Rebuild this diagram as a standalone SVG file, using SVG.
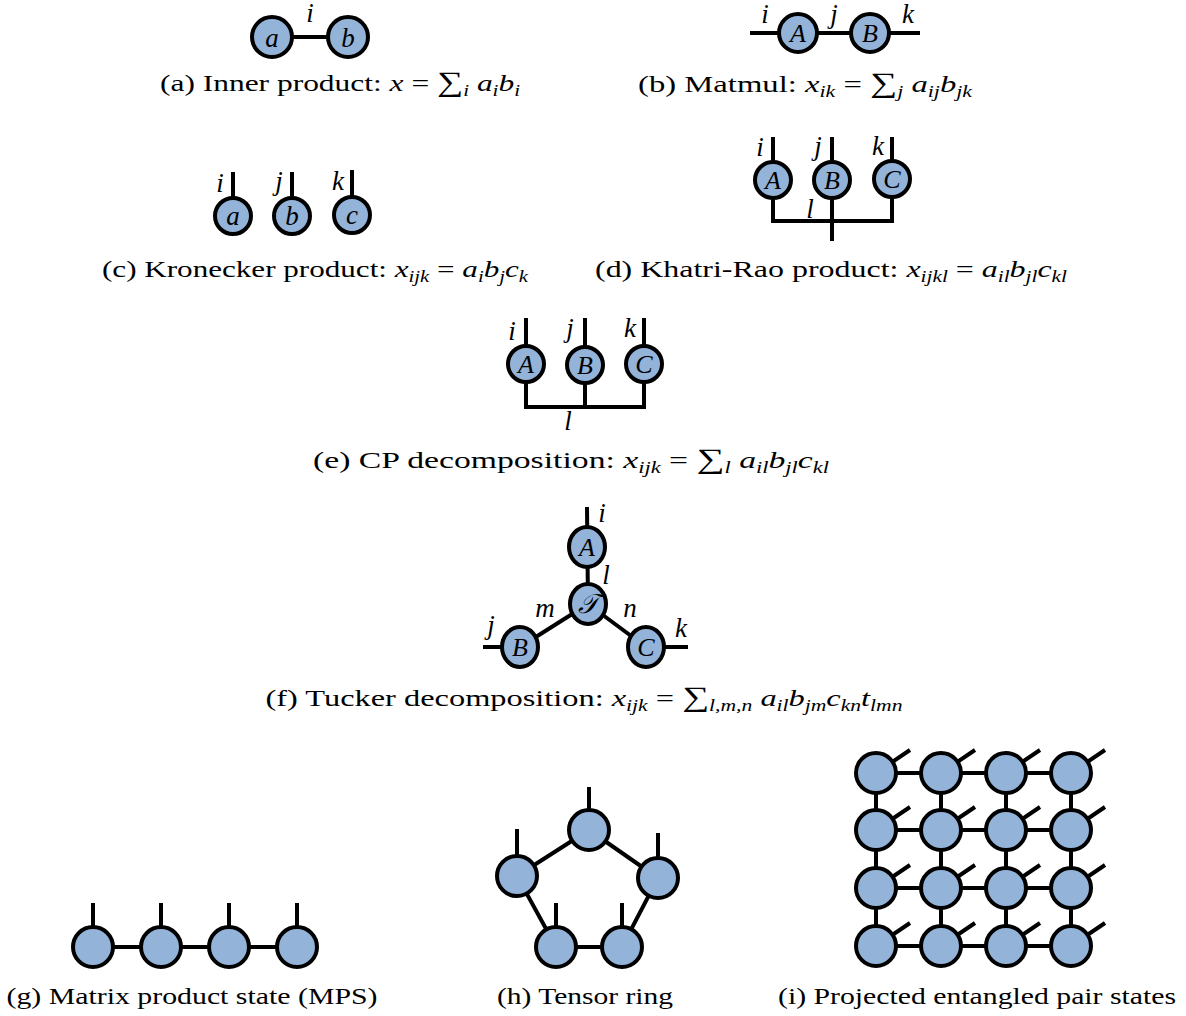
<svg xmlns="http://www.w3.org/2000/svg" width="1186" height="1016" viewBox="0 0 1186 1016">
<style>
.n{fill:#93b3d9;stroke:#000;stroke-width:4}
.e{stroke:#000;stroke-width:4;fill:none}
.cap{font-family:"Liberation Serif","DejaVu Serif",serif;font-size:24px;fill:#000;text-anchor:middle}
.it{font-style:italic}
.lb{font-family:"Liberation Serif","DejaVu Serif",serif;font-style:italic;font-size:27px;fill:#000;text-anchor:middle}
.nl{font-size:26px}
.sm{font-size:16px}
.sg{font-size:28px}
</style>
<rect width="1186" height="1016" fill="#fff"/>
<g id="connectors">
<line class="e" x1="272" y1="37" x2="348" y2="37"/>
<line class="e" x1="750" y1="33" x2="920" y2="33"/>
<line class="e" x1="233" y1="172" x2="233" y2="216"/>
<line class="e" x1="292" y1="172" x2="292" y2="216"/>
<line class="e" x1="352" y1="170" x2="352" y2="215"/>
<line class="e" x1="773" y1="137" x2="773" y2="180"/>
<line class="e" x1="832" y1="137" x2="832" y2="241"/>
<line class="e" x1="892" y1="137" x2="892" y2="179"/>
<polyline class="e" points="773,180 773,221 892,221 892,179"/>
<line class="e" x1="526" y1="318" x2="526" y2="364"/>
<line class="e" x1="585" y1="318" x2="585" y2="407"/>
<line class="e" x1="644" y1="318" x2="644" y2="364"/>
<polyline class="e" points="526,364 526,407 644,407 644,364"/>
<line class="e" x1="587" y1="507" x2="588" y2="604"/>
<line class="e" x1="588" y1="604" x2="520" y2="647"/>
<line class="e" x1="588" y1="604" x2="646" y2="647"/>
<line class="e" x1="483" y1="647" x2="520" y2="647"/>
<line class="e" x1="646" y1="647" x2="688" y2="647"/>
<line class="e" x1="93" y1="947" x2="297" y2="947"/>
<line class="e" x1="93" y1="903" x2="93" y2="947"/>
<line class="e" x1="161" y1="903" x2="161" y2="947"/>
<line class="e" x1="229" y1="903" x2="229" y2="947"/>
<line class="e" x1="297" y1="903" x2="297" y2="947"/>
<polygon class="e" points="589,830 658,878 622,947 556,947 517,876"/>
<line class="e" x1="589" y1="787" x2="589" y2="830"/>
<line class="e" x1="517" y1="829" x2="517" y2="876"/>
<line class="e" x1="658" y1="833" x2="658" y2="878"/>
<line class="e" x1="556" y1="903" x2="556" y2="947"/>
<line class="e" x1="622" y1="903" x2="622" y2="947"/>
<line class="e" x1="876" y1="773" x2="1071" y2="773"/>
<line class="e" x1="876" y1="830" x2="1071" y2="830"/>
<line class="e" x1="876" y1="888" x2="1071" y2="888"/>
<line class="e" x1="876" y1="946" x2="1071" y2="946"/>
<line class="e" x1="876" y1="773" x2="876" y2="946"/>
<line class="e" x1="941" y1="773" x2="941" y2="946"/>
<line class="e" x1="1006" y1="773" x2="1006" y2="946"/>
<line class="e" x1="1071" y1="773" x2="1071" y2="946"/>
<path class="e" d="M876,773l34,-23M941,773l34,-23M1006,773l34,-23M1071,773l34,-23M876,830l34,-23M941,830l34,-23M1006,830l34,-23M1071,830l34,-23M876,888l34,-23M941,888l34,-23M1006,888l34,-23M1071,888l34,-23M876,946l34,-23M941,946l34,-23M1006,946l34,-23M1071,946l34,-23"/>
</g>
<!-- (a) -->
<g id="a-a"><circle class="n" cx="272" cy="37" r="20"/><text class="lb" x="272" y="47" font-size="32">a</text></g>
<g id="a-b"><circle class="n" cx="348" cy="37" r="20"/><text class="lb" x="348" y="47" font-size="32">b</text></g>
<text class="lb" x="310" y="22">i</text>
<text class="cap" x="340" y="91" textLength="360" lengthAdjust="spacingAndGlyphs">(a) Inner product: <tspan class="it">x</tspan> = <tspan class="sg">∑</tspan><tspan class="it sm" dy="5">i</tspan><tspan dy="-5"> </tspan><tspan class="it">a</tspan><tspan class="it sm" dy="5">i</tspan><tspan class="it" dy="-5">b</tspan><tspan class="it sm" dy="5">i</tspan></text>
<!-- (b) -->
<g id="b-A"><circle class="n" cx="798" cy="33" r="19"/><text class="lb nl" x="798" y="42">A</text></g>
<g id="b-B"><circle class="n" cx="870" cy="33" r="19"/><text class="lb nl" x="870" y="42">B</text></g>
<text class="lb" x="765" y="23">i</text>
<text class="lb" x="834" y="23">j</text>
<text class="lb" x="908" y="23">k</text>
<text class="cap" x="805" y="92" textLength="334" lengthAdjust="spacingAndGlyphs">(b) Matmul: <tspan class="it">x</tspan><tspan class="it sm" dy="5">ik</tspan><tspan dy="-5"> = </tspan><tspan class="sg">∑</tspan><tspan class="it sm" dy="5">j</tspan><tspan dy="-5"> </tspan><tspan class="it">a</tspan><tspan class="it sm" dy="5">ij</tspan><tspan class="it" dy="-5">b</tspan><tspan class="it sm" dy="5">jk</tspan></text>
<!-- (c) -->
<g id="c-a"><circle class="n" cx="233" cy="216" r="18"/><text class="lb" x="233" y="225" font-size="29">a</text></g>
<g id="c-b"><circle class="n" cx="292" cy="216" r="18"/><text class="lb" x="292" y="225" font-size="29">b</text></g>
<g id="c-c"><circle class="n" cx="352" cy="215" r="18"/><text class="lb" x="352" y="224" font-size="29">c</text></g>
<text class="lb" x="220" y="192">i</text>
<text class="lb" x="279" y="190">j</text>
<text class="lb" x="338" y="190">k</text>
<text class="cap" x="315" y="277" textLength="426" lengthAdjust="spacingAndGlyphs">(c) Kronecker product: <tspan class="it">x</tspan><tspan class="it sm" dy="5">ijk</tspan><tspan dy="-5"> = </tspan><tspan class="it">a</tspan><tspan class="it sm" dy="5">i</tspan><tspan class="it" dy="-5">b</tspan><tspan class="it sm" dy="5">j</tspan><tspan class="it" dy="-5">c</tspan><tspan class="it sm" dy="5">k</tspan></text>
<!-- (d) -->
<g id="d-A"><circle class="n" cx="773" cy="180" r="18"/><text class="lb nl" x="773" y="189">A</text></g>
<g id="d-B"><circle class="n" cx="832" cy="180" r="18"/><text class="lb nl" x="832" y="189">B</text></g>
<g id="d-C"><circle class="n" cx="892" cy="179" r="18"/><text class="lb nl" x="892" y="188">C</text></g>
<text class="lb" x="760" y="156">i</text>
<text class="lb" x="818" y="155">j</text>
<text class="lb" x="878" y="155">k</text>
<text class="lb" x="810" y="218">l</text>
<text class="cap" x="831" y="277" textLength="472" lengthAdjust="spacingAndGlyphs">(d) Khatri-Rao product: <tspan class="it">x</tspan><tspan class="it sm" dy="5">ijkl</tspan><tspan dy="-5"> = </tspan><tspan class="it">a</tspan><tspan class="it sm" dy="5">il</tspan><tspan class="it" dy="-5">b</tspan><tspan class="it sm" dy="5">jl</tspan><tspan class="it" dy="-5">c</tspan><tspan class="it sm" dy="5">kl</tspan></text>
<!-- (e) -->
<g id="e-A"><circle class="n" cx="526" cy="364" r="18"/><text class="lb nl" x="526" y="373">A</text></g>
<g id="e-B"><circle class="n" cx="585" cy="365" r="18"/><text class="lb nl" x="585" y="374">B</text></g>
<g id="e-C"><circle class="n" cx="644" cy="364" r="18"/><text class="lb nl" x="644" y="373">C</text></g>
<text class="lb" x="512" y="340">i</text>
<text class="lb" x="570" y="337">j</text>
<text class="lb" x="630" y="337">k</text>
<text class="lb" x="568" y="430">l</text>
<text class="cap" x="571" y="468" textLength="516" lengthAdjust="spacingAndGlyphs">(e) CP decomposition: <tspan class="it">x</tspan><tspan class="it sm" dy="5">ijk</tspan><tspan dy="-5"> = </tspan><tspan class="sg">∑</tspan><tspan class="it sm" dy="5">l</tspan><tspan dy="-5"> </tspan><tspan class="it">a</tspan><tspan class="it sm" dy="5">il</tspan><tspan class="it" dy="-5">b</tspan><tspan class="it sm" dy="5">jl</tspan><tspan class="it" dy="-5">c</tspan><tspan class="it sm" dy="5">kl</tspan></text>
<!-- (f) -->
<g id="f-A"><ellipse class="n" cx="587" cy="547" rx="18" ry="20"/><text class="lb nl" x="587" y="556">A</text></g>
<g id="f-T"><ellipse class="n" cx="588" cy="604" rx="18" ry="20"/><text class="lb" x="588" y="613" font-size="23">𝒯</text></g>
<g id="f-B"><ellipse class="n" cx="520" cy="647" rx="18" ry="20"/><text class="lb nl" x="520" y="656">B</text></g>
<g id="f-C"><ellipse class="n" cx="646" cy="647" rx="18" ry="20"/><text class="lb nl" x="646" y="656">C</text></g>
<text class="lb" x="602" y="522">i</text>
<text class="lb" x="606" y="584">l</text>
<text class="lb" x="491" y="634">j</text>
<text class="lb" x="545" y="617">m</text>
<text class="lb" x="630" y="617">n</text>
<text class="lb" x="681" y="637">k</text>
<text class="cap" x="584" y="706" textLength="637" lengthAdjust="spacingAndGlyphs">(f) Tucker decomposition: <tspan class="it">x</tspan><tspan class="it sm" dy="5">ijk</tspan><tspan dy="-5"> = </tspan><tspan class="sg">∑</tspan><tspan class="it sm" dy="5">l,m,n</tspan><tspan dy="-5"> </tspan><tspan class="it">a</tspan><tspan class="it sm" dy="5">il</tspan><tspan class="it" dy="-5">b</tspan><tspan class="it sm" dy="5">jm</tspan><tspan class="it" dy="-5">c</tspan><tspan class="it sm" dy="5">kn</tspan><tspan class="it" dy="-5">t</tspan><tspan class="it sm" dy="5">lmn</tspan></text>
<!-- (g) -->
<g id="g-1"><circle class="n" cx="93" cy="947" r="20"/></g>
<g id="g-2"><circle class="n" cx="161" cy="947" r="20"/></g>
<g id="g-3"><circle class="n" cx="229" cy="947" r="20"/></g>
<g id="g-4"><circle class="n" cx="297" cy="947" r="20"/></g>
<text class="cap" x="192" y="1004" textLength="371" lengthAdjust="spacingAndGlyphs">(g) Matrix product state (MPS)</text>
<!-- (h) -->
<g id="h-1"><circle class="n" cx="589" cy="830" r="20"/></g>
<g id="h-2"><circle class="n" cx="517" cy="876" r="20"/></g>
<g id="h-3"><circle class="n" cx="658" cy="878" r="20"/></g>
<g id="h-4"><circle class="n" cx="556" cy="947" r="20"/></g>
<g id="h-5"><circle class="n" cx="622" cy="947" r="20"/></g>
<text class="cap" x="585" y="1004" textLength="176" lengthAdjust="spacingAndGlyphs">(h) Tensor ring</text>
<!-- (i) -->
<g id="i-nodes">
<circle class="n" cx="876" cy="773" r="20"/><circle class="n" cx="941" cy="773" r="20"/><circle class="n" cx="1006" cy="773" r="20"/><circle class="n" cx="1071" cy="773" r="20"/>
<circle class="n" cx="876" cy="830" r="20"/><circle class="n" cx="941" cy="830" r="20"/><circle class="n" cx="1006" cy="830" r="20"/><circle class="n" cx="1071" cy="830" r="20"/>
<circle class="n" cx="876" cy="888" r="20"/><circle class="n" cx="941" cy="888" r="20"/><circle class="n" cx="1006" cy="888" r="20"/><circle class="n" cx="1071" cy="888" r="20"/>
<circle class="n" cx="876" cy="946" r="20"/><circle class="n" cx="941" cy="946" r="20"/><circle class="n" cx="1006" cy="946" r="20"/><circle class="n" cx="1071" cy="946" r="20"/>
</g>
<text class="cap" x="977" y="1004" textLength="398" lengthAdjust="spacingAndGlyphs">(i) Projected entangled pair states</text>
</svg>
